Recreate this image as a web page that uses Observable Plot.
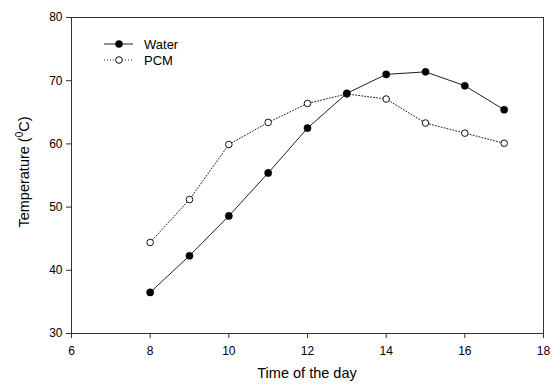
<!DOCTYPE html>
<html>
<head>
<meta charset="utf-8">
<script src="https://cdn.jsdelivr.net/npm/d3@7"></script>
<script src="https://cdn.jsdelivr.net/npm/@observablehq/plot@0.6"></script>
<style>
  html, body { margin: 0; padding: 0; background: #fff; }
  #chart { position: relative; width: 552px; height: 385px; }
  svg { font-family: "Liberation Sans", Arial, sans-serif; }
</style>
</head>
<body>
<div id="chart"></div>
<script>
const hours = [8, 9, 10, 11, 12, 13, 14, 15, 16, 17];
const water = [36.5, 42.3, 48.6, 55.4, 62.5, 68.0, 71.0, 71.4, 69.2, 65.4];
const pcm   = [44.4, 51.2, 59.9, 63.4, 66.4, 67.9, 67.1, 63.3, 61.7, 60.1];
const xTicks = [6, 8, 10, 12, 14, 16, 18];
const yTicks = [30, 40, 50, 60, 70, 80];
const seriesNames = ["Water", "PCM"];
const xTitle = "Time of the day";

const waterData = hours.map((h, i) => ({h, v: water[i]}));
const pcmData = hours.map((h, i) => ({h, v: pcm[i]}));

const plot = Plot.plot({
  width: 552,
  height: 385,
  marginLeft: 71,
  marginRight: 9,
  marginTop: 17,
  marginBottom: 52,
  style: {fontFamily: '"Liberation Sans", Arial, sans-serif', fontSize: "12px", color: "#000", background: "#fff"},
  x: {domain: [6, 18], ticks: xTicks, label: null},
  y: {domain: [30, 80], ticks: yTicks, label: null},
  marks: [
    Plot.frame({stroke: "#333", strokeWidth: 1}),
    Plot.axisX({ticks: xTicks, tickSize: 5, tickPadding: 8, stroke: "#333", fill: "#000", fontSize: 12, label: null}),
    Plot.axisY({ticks: yTicks, tickSize: 5, tickPadding: 4, stroke: "#333", fill: "#000", fontSize: 12, label: null}),
    Plot.line(pcmData, {x: "h", y: "v", stroke: "#222", strokeWidth: 1, strokeDasharray: "1,2"}),
    Plot.line(waterData, {x: "h", y: "v", stroke: "#222", strokeWidth: 1}),
    Plot.dot(pcmData, {x: "h", y: "v", r: 3.3, fill: "#fff", stroke: "#111", strokeWidth: 1}),
    Plot.dot(waterData, {x: "h", y: "v", r: 3.6, fill: "#000", stroke: "#000", strokeWidth: 0.5})
  ]
});

document.getElementById("chart").appendChild(plot);

const svg = d3.select(plot);
const xr = plot.scale("x").range;
const yr = plot.scale("y").range;

// X axis title
svg.append("text")
  .attr("x", (xr[0] + xr[1]) / 2)
  .attr("y", yr[0] + 45)
  .attr("text-anchor", "middle")
  .attr("font-size", 14.5)
  .attr("fill", "#000")
  .text(xTitle);

// Y axis title with superscript
const yt = svg.append("text")
  .attr("transform", `translate(${xr[0] - 42},${(yr[0] + yr[1]) / 2 - 3}) rotate(-90)`)
  .attr("text-anchor", "middle")
  .attr("font-size", 14.5)
  .attr("fill", "#000");
yt.append("tspan").text("Temperature (");
yt.append("tspan").attr("font-size", 10).attr("dy", -6).text("0");
yt.append("tspan").attr("dy", 6).text("C)");

// Legend
const lg = svg.append("g").attr("transform", `translate(${xr[0] + 33},${yr[1] + 27})`);
seriesNames.forEach((name, i) => {
  const row = lg.append("g").attr("transform", `translate(0,${i * 16})`);
  const l = row.append("line").attr("x1", 0).attr("x2", 29).attr("y1", 0).attr("y2", 0)
    .attr("stroke", "#222").attr("stroke-width", 1);
  if (i === 1) l.attr("stroke-dasharray", "1,2");
  row.append("circle").attr("cx", 15).attr("cy", 0).attr("r", i === 0 ? 3.6 : 3.3)
    .attr("fill", i === 0 ? "#000" : "#fff").attr("stroke", "#111").attr("stroke-width", i === 0 ? 0.5 : 1);
  row.append("text").attr("x", 40).attr("y", 0).attr("dy", "0.35em")
    .attr("text-anchor", "start")
    .attr("font-size", 13).attr("fill", "#000").text(name);
});
</script>
</body>
</html>
